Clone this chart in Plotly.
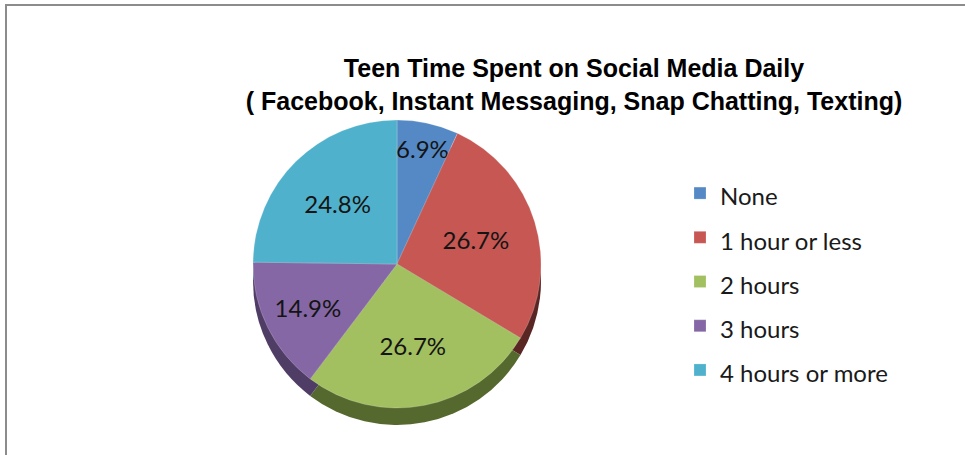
import plotly.graph_objects as go

# Daily time on social media, share of teens per bucket
categories = ["None", "1 hour or less", "2 hours", "3 hours", "4 hours or more"]
shares = [6.9, 26.7, 26.7, 14.9, 24.8]

top_colors = ["#5489c5", "#c65753", "#a2c060", "#8567a5", "#50b1cc"]
side_colors = ["#2f4f77", "#5a2624", "#55692e", "#4f3d66", "#2c6a7c"]

W, H = 965, 455
cx, cy, R, depth = 397, 264, 144, 17


def domain(cx_px, cy_px, r_px):
    return dict(
        x=[(cx_px - r_px) / W, (cx_px + r_px) / W],
        y=[(H - cy_px - r_px) / H, (H - cy_px + r_px) / H],
    )


fig = go.Figure()

# darker copy shifted down gives the pie its thickness
fig.add_trace(go.Pie(
    labels=categories, values=shares, sort=False,
    direction="clockwise", rotation=0,
    marker=dict(colors=side_colors, line=dict(width=0)),
    textinfo="none", hoverinfo="skip", showlegend=False,
    domain=domain(cx, cy + depth, R),
))

legend_labels = [f'<span style="font-size:24px">{c}</span>' for c in categories]

fig.add_trace(go.Pie(
    labels=legend_labels, values=shares, sort=False,
    direction="clockwise", rotation=0,
    marker=dict(colors=top_colors, line=dict(width=0.6, color="rgba(255,255,255,0.35)")),
    texttemplate="%{value:.1f}%", textposition="inside",
    insidetextorientation="horizontal",
    textfont=dict(family="Lato", size=24, color="#141414"),
    hovertemplate="%{label}: %{value:.1f}%<extra></extra>",
    domain=domain(cx, cy, R),
))

fig.update_layout(
    width=W, height=H,
    margin=dict(l=0, r=0, t=0, b=0),
    paper_bgcolor="white",
    plot_bgcolor="white",
    uniformtext=dict(minsize=24, mode="show"),
    title=dict(
        text="Teen Time Spent on Social Media Daily<br>( Facebook, Instant Messaging, Snap Chatting, Texting)",
        x=574 / W, xanchor="center", xref="paper",
        y=1 - 77 / H, yanchor="top", yref="paper",
        font=dict(family="Liberation Sans", size=25, color="#000000", weight="bold"),
    ),
    legend=dict(
        x=680 / W, xanchor="left",
        y=1 - 166 / H, yanchor="top",
        font=dict(family="Lato", size=31.7, color="#1a1a1a"),
        bgcolor="rgba(0,0,0,0)",
        traceorder="normal",
    ),
    shapes=[dict(
        type="rect", xref="paper", yref="paper",
        x0=6 / W, x1=1.05, y0=-0.05, y1=1 - 5 / H,
        line=dict(color="#8c8c8c", width=2),
        fillcolor="rgba(0,0,0,0)", layer="below",
    )],
)

fig.write_html("out.html")
